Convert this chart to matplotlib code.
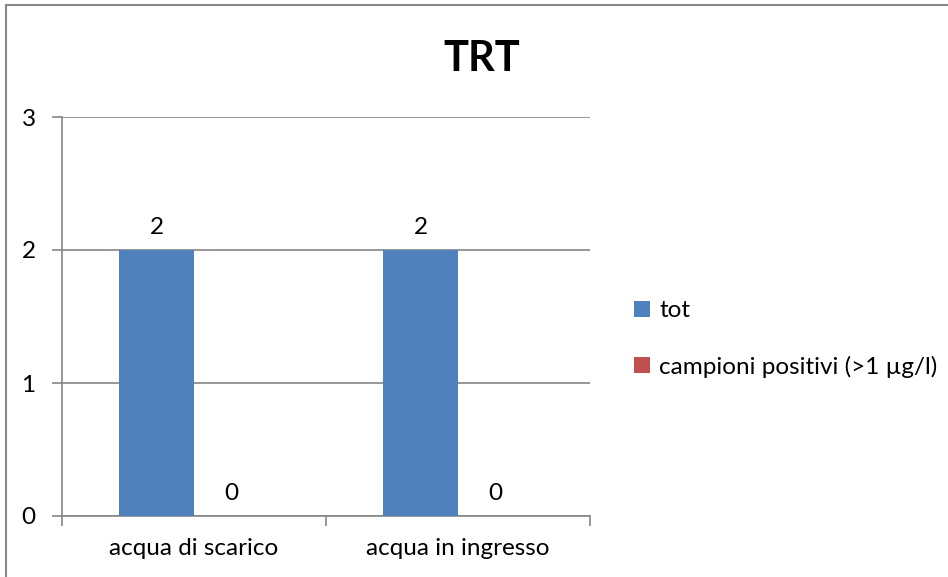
import matplotlib
matplotlib.use("Agg")
import matplotlib.pyplot as plt
import numpy as np
from matplotlib.lines import Line2D

plt.rcParams['font.family'] = ['Lato', 'DejaVu Sans']

# data
categories = ["acqua di scarico", "acqua in ingresso"]
tot = [2, 2]
positivi = [0, 0]
series_names = ["tot", "campioni positivi (>1 µg/l)"]
yticks = [0, 1, 2, 3]

blue = '#4F81BD'
red = '#C0504D'
grid_col = '#868686'
fs = 17.5

fig = plt.figure(figsize=(9.48, 5.77), dpi=100)
ax = fig.add_axes([62/948, 61/577, 528/948, 399/577])

x = np.arange(len(categories))
w = 0.284
b1 = ax.bar(x - w/2, tot, w, color=blue, label=series_names[0], zorder=3)
b2 = ax.bar(x + w/2, positivi, w, color=red, label=series_names[1], zorder=3)

for rect, v in zip(list(b1) + list(b2), tot + positivi):
    ax.annotate(str(v), (rect.get_x() + rect.get_width()/2, v),
                xytext=(0, 9), textcoords='offset points',
                ha='center', va='bottom', fontsize=fs)

ax.set_xlim(-0.5, len(categories) - 0.5)
ax.set_ylim(0, 3)
ax.set_yticks(yticks)
ax.set_yticklabels([str(t) for t in yticks], fontsize=fs)
ax.yaxis.grid(True, color=grid_col, linewidth=1.2, zorder=0)

# category boundaries as tick marks, labels at centers
ax.set_xticks(np.arange(len(categories) + 1) - 0.5)
ax.set_xticklabels([])
ax.set_xticks(x, minor=True)
ax.set_xticklabels(categories, minor=True, fontsize=fs)
ax.tick_params(axis='x', which='minor', length=0, pad=16)
ax.tick_params(axis='x', which='major', length=7, color=grid_col, width=1.2)
ax.tick_params(axis='y', length=7, color=grid_col, width=1.2, pad=12)

for s in ['top', 'right']:
    ax.spines[s].set_visible(False)
for s in ['left', 'bottom']:
    ax.spines[s].set_color(grid_col)
    ax.spines[s].set_linewidth(1.2)

fig.text(482/948, 1 - 59/577, "TRT", fontsize=30, fontweight='bold',
         ha='center', va='center')

fig.legend(handles=[b1, b2], labels=series_names, loc='center left',
           bbox_to_anchor=(612/948, 1 - 339/577), frameon=False,
           fontsize=fs, handlelength=0.65, handleheight=0.65,
           handletextpad=0.4, labelspacing=1.4)

# chart area border (left and top edges visible)
fig.add_artist(Line2D([6/948, 6/948], [0, 1 - 5/577], transform=fig.transFigure,
                      color='#888888', linewidth=1.5))
fig.add_artist(Line2D([6/948, 1], [1 - 5/577, 1 - 5/577], transform=fig.transFigure,
                      color='#888888', linewidth=1.5))

fig.savefig('out.png', dpi=100)
